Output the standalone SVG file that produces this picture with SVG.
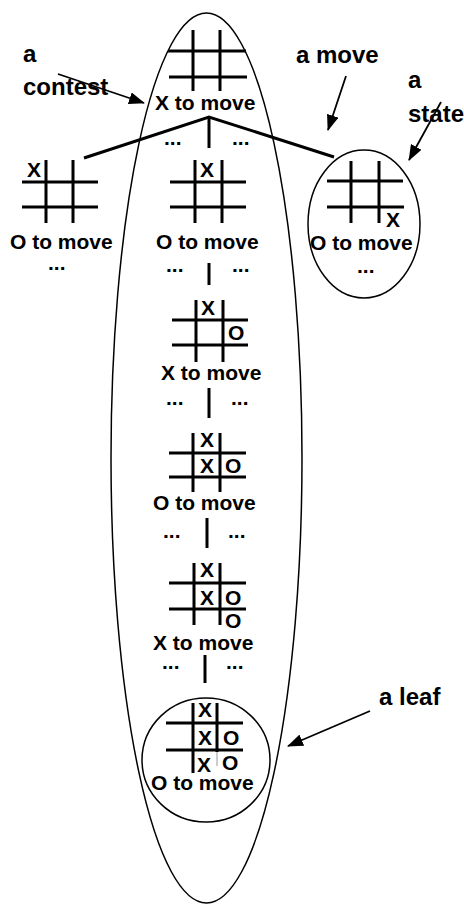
<svg xmlns="http://www.w3.org/2000/svg" width="464" height="904" viewBox="0 0 464 904">
<style>
.g{stroke:#000;stroke-width:3;fill:none}
.e{stroke:#000;stroke-width:1.5;fill:none}
.t{font-family:"Liberation Sans",Arial,sans-serif;font-weight:bold;font-size:21px;fill:#000}
.l{font-family:"Liberation Sans",Arial,sans-serif;font-weight:bold;font-size:24px;fill:#000}
.c{stroke:#000;stroke-width:3;fill:none}
.a{stroke:#000;stroke-width:1.8;fill:none}
</style>
<defs>
<marker id="ah" markerUnits="userSpaceOnUse" markerWidth="16" markerHeight="12" refX="15" refY="6" orient="auto">
<path d="M0,0 L16,6 L0,12 Z" fill="#000"/>
</marker>
</defs>
<g id="contest"><ellipse class="e" cx="206.5" cy="458" rx="95.5" ry="445"/></g>
<g id="state-right-ellipse"><ellipse class="e" cx="364" cy="224" rx="56" ry="74"/></g>
<g id="leaf-circle"><ellipse class="e" cx="206" cy="760" rx="64" ry="62"/></g>
<g id="connectors">
<path class="c" d="M84,158 L209,117 L334,157"/>
<path class="c" d="M209,117 V148"/>
<path class="c" d="M209,263 V285"/>
<path class="c" d="M209,388 V418"/>
<path class="c" d="M207,518 V548"/>
<path class="c" d="M205,655 V683"/>
<path class="a" d="M58,74 L144,103" marker-end="url(#ah)"/>
<path class="a" d="M346,76 L328,130" marker-end="url(#ah)"/>
<path class="a" d="M441,102 L409,160" marker-end="url(#ah)"/>
<path class="a" d="M370,711 L288,746" marker-end="url(#ah)"/>
</g>
<g id="node-root">
<path class="g" d="M193,30 V91 M220,30 V91 M168,51 H246 M169,77 H247"/>
<text class="t" x="155" y="110">X to move</text>
<text class="t" x="164" y="145">...</text>
<text class="t" x="232" y="145">...</text>
</g>
<g id="node-left">
<path class="g" d="M46,160 V223 M73,160 V223 M22,182 H98 M22,207 H98"/>
<text class="t" x="27" y="177">X</text>
<text class="t" x="10" y="249">O to move</text>
<text class="t" x="48" y="270">...</text>
</g>
<g id="node-mid1">
<path class="g" d="M195,160 V223 M222,160 V223 M170,182 H246 M170,207 H246"/>
<text class="t" x="200" y="177">X</text>
<text class="t" x="156" y="249">O to move</text>
<text class="t" x="166" y="272">...</text>
<text class="t" x="232" y="272">...</text>
</g>
<g id="node-right">
<path class="g" d="M351,161 V223 M379,161 V223 M327,181 H403 M327,207 H404"/>
<text class="t" x="386" y="227">X</text>
<text class="t" x="310" y="250">O to move</text>
<text class="t" x="357" y="273">...</text>
</g>
<g id="node-mid2">
<path class="g" d="M196,300 V362 M223,300 V362 M172,320 H248 M172,345 H248"/>
<text class="t" x="201" y="315">X</text>
<text class="t" x="228" y="340">O</text>
<text class="t" x="161" y="380">X to move</text>
<text class="t" x="166" y="405">...</text>
<text class="t" x="231" y="405">...</text>
</g>
<g id="node-mid3">
<path class="g" d="M193,433 V492 M220,433 V492 M169,453 H246 M169,477 H246"/>
<text class="t" x="200" y="447">X</text>
<text class="t" x="200" y="473">X</text>
<text class="t" x="225" y="473">O</text>
<text class="t" x="153" y="510">O to move</text>
<text class="t" x="163" y="538">...</text>
<text class="t" x="228" y="538">...</text>
</g>
<g id="node-mid4">
<path class="g" d="M194,563 V625 M220,563 V625 M169,583 H246 M169,609 H246"/>
<text class="t" x="200" y="577">X</text>
<text class="t" x="200" y="605">X</text>
<text class="t" x="225" y="605">O</text>
<text class="t" x="225" y="628">O</text>
<text class="t" x="153" y="650">X to move</text>
<text class="t" x="162" y="669">...</text>
<text class="t" x="226" y="669">...</text>
</g>
<g id="node-leaf">
<path class="g" d="M193,703 V773 M217,703 V752 M166,723 H243 M166,750 H243"/>
<path d="M217,752 V766" stroke="#bbb" stroke-width="1.5"/>
<text class="t" x="198" y="717">X</text>
<text class="t" x="198" y="745">X</text>
<text class="t" x="223" y="745">O</text>
<text class="t" x="197" y="772">X</text>
<text class="t" x="222" y="770">O</text>
<text class="t" x="151" y="790">O to move</text>
</g>
<g id="labels">
<text class="l" x="23" y="62">a</text>
<text class="l" x="23" y="95">contest</text>
<text class="l" x="296" y="63">a move</text>
<text class="l" x="408" y="88">a</text>
<text class="l" x="408" y="122">state</text>
<text class="l" x="379" y="705">a leaf</text>
</g>
</svg>
